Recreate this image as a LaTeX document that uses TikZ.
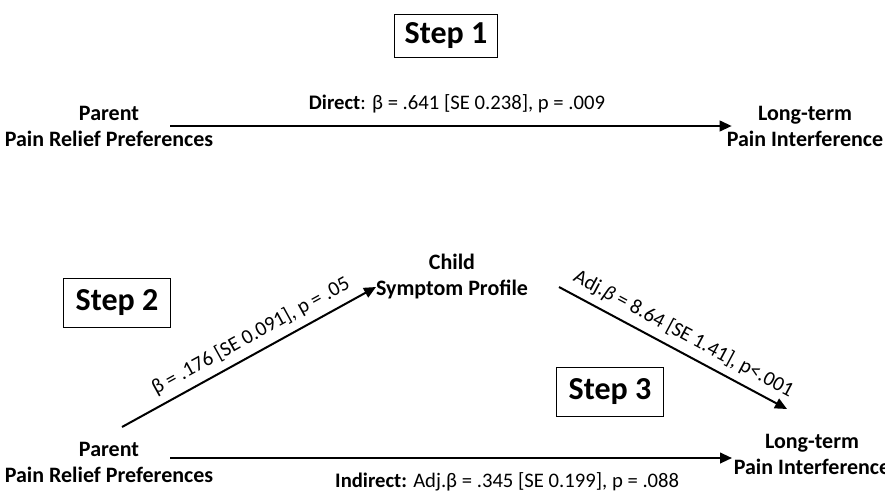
\documentclass[tikz,border=0pt]{standalone}
\usepackage{fontspec}
\setmainfont{Carlito}
\usetikzlibrary{arrows.meta}
\begin{document}
\begin{tikzpicture}[x=0.75pt,y=-0.75pt,
  stepbox/.style={draw,line width=1.1pt,font=\fontsize{24}{28}\selectfont\bfseries,inner sep=0pt},
  var/.style={align=center,font=\fontsize{16.5}{19.5}\selectfont\bfseries},
  lbl/.style={font=\fontsize{15.5}{18}\selectfont},
  arr/.style={-{Triangle[length=9pt,width=8pt]},line width=1.5pt}]
\useasboundingbox (0,0) rectangle (885,494);
% step boxes
\node[stepbox,minimum width=77pt,minimum height=32pt] (st1) at (446,36) {Step 1};
\node[stepbox,minimum width=80pt,minimum height=37pt] (st2) at (117,303) {Step 2};
\node[stepbox,minimum width=80pt,minimum height=37pt] (st3) at (610,392) {Step 3};
% variables
\node[var] (pp1) at (109,126) {Parent\\Pain Relief Preferences};
\node[var] (lt1) at (805,126) {Long-term\\Pain Interference};
\node[var] (cs) at (452,277) {Child\\Symptom Profile};
\node[var] (pp2) at (109,462) {Parent\\Pain Relief Preferences};
\node[var] (lt2) at (812,454) {Long-term\\Pain Interference};
% paths
\draw[arr,shorten <=46pt,shorten >=55pt] (pp1.center) -- (lt1.center)
  node[lbl,midway,above=6pt] {\textbf{Direct}: β = .641 [SE 0.238], p = .009};
\draw[arr] ([shift={(13,-35)}]pp2.center) -- ([shift={(-76,10)}]cs.center)
  node[lbl,pos=0.54,sloped,above=2pt] {β = .176 [SE 0.091], p = .05};
\draw[arr] ([shift={(107,10)}]cs.center) -- ([shift={(-25,-45)}]lt2.center)
  node[lbl,pos=0.51,sloped,above=2pt] {Adj.\textit{β} = 8.64 [SE 1.41], p<.001};
\draw[arr] ([shift={(61,-4)}]pp2.center) -- ([shift={(-80,4)}]lt2.center)
  node[lbl,pos=0.6,below=7pt] {\textbf{Indirect:} Adj.β = .345 [SE 0.199], p = .088};
\end{tikzpicture}
\end{document}
